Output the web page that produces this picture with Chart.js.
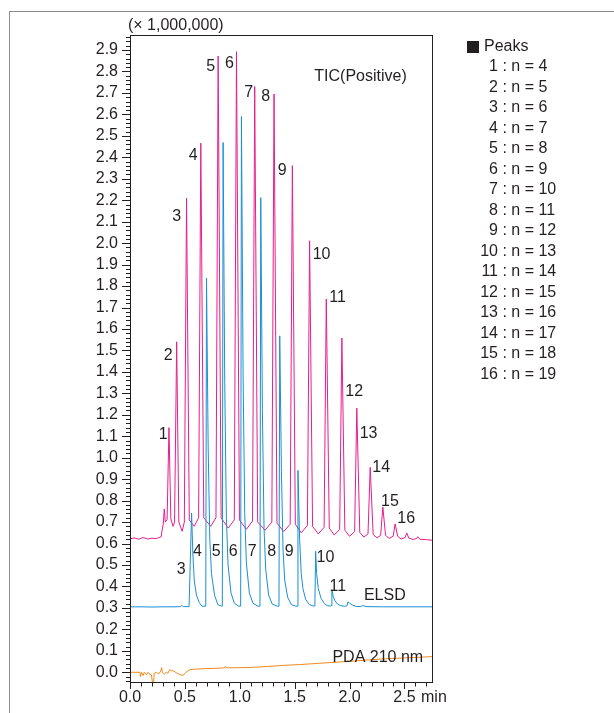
<!DOCTYPE html>
<html>
<head>
<meta charset="utf-8">
<title>Chromatogram</title>
<script src="https://cdn.jsdelivr.net/npm/chart.js@4.4.0/dist/chart.umd.min.js"></script>
<style>
  html, body { margin: 0; padding: 0; background: #fff; }
  #wrap { position: relative; width: 614px; height: 713px; overflow: hidden; }
  #frame { position: absolute; left: 9px; top: 11px; width: 700px; height: 800px;
           border-left: 1px solid #8c8c8c; border-top: 1px solid #8c8c8c; }
  #chart { position: absolute; left: 0; top: 0; }
</style>
</head>
<body>
<div id="wrap"><div id="frame"></div><canvas id="chart" width="614" height="713"></canvas></div>
<script>
var FONT = '"Liberation Sans", Arial, Helvetica, sans-serif';
var INK = '#231f20';

/* [time (min), intensity (x 1,000,000)] */
var ticPoints = [
  [0.00,0.622],[0.04,0.626],[0.08,0.620],[0.12,0.628],[0.16,0.621],[0.20,0.625],[0.24,0.623],
  [0.285,0.632],[0.292,0.662],[0.303,0.69],[0.312,0.761],[0.322,0.70],[0.338,0.712],
  [0.355,1.14],[0.372,0.715],[0.392,0.68],[0.406,0.70],
  [0.425,1.54],[0.445,0.70],[0.475,0.657],[0.495,0.70],
  [0.515,2.21],[0.54,0.71],[0.585,0.68],[0.625,0.72],
  [0.645,2.466],[0.672,0.72],[0.735,0.68],[0.783,0.72],
  [0.803,2.872],[0.83,0.72],[0.895,0.672],[0.95,0.71],
  [0.970,2.892],[0.997,0.71],[1.06,0.666],[1.116,0.705],
  [1.136,2.73],[1.163,0.70],[1.23,0.662],[1.292,0.70],
  [1.312,2.695],[1.339,0.695],[1.40,0.656],[1.459,0.69],
  [1.479,2.361],[1.506,0.69],[1.56,0.65],[1.616,0.685],
  [1.636,2.011],[1.663,0.68],[1.715,0.645],[1.768,0.675],
  [1.788,1.739],[1.815,0.672],[1.86,0.64],[1.91,0.665],
  [1.930,1.558],[1.957,0.662],[2.00,0.634],[2.046,0.655],
  [2.066,1.231],[2.093,0.652],[2.13,0.63],[2.168,0.645],
  [2.188,0.955],[2.215,0.642],[2.25,0.627],[2.283,0.638],
  [2.303,0.77],[2.328,0.638],[2.36,0.624],[2.397,0.634],
  [2.415,0.691],[2.438,0.634],[2.47,0.621],[2.506,0.628],
  [2.521,0.649],[2.54,0.625],[2.58,0.619],[2.61,0.623],
  [2.621,0.632],[2.64,0.62],[2.70,0.618],[2.76,0.615]
];
var elsdPoints = [
  [0.00,0.305],[0.10,0.305],[0.20,0.304],[0.30,0.305],[0.40,0.305],[0.46,0.306],[0.47,0.312],[0.485,0.306],
  [0.538,0.306],[0.561,0.742],[0.572,0.56],[0.585,0.43],[0.605,0.36],[0.63,0.325],[0.655,0.308],
  [0.690,0.308],[0.697,1.837],[0.712,1.05],[0.727,0.62],[0.742,0.46],[0.77,0.36],[0.80,0.315],[0.834,0.308],
  [0.841,0.308],[0.848,2.469],[0.863,1.35],[0.878,0.72],[0.893,0.50],[0.92,0.37],[0.95,0.322],[0.99,0.308],
  [1.008,0.308],[1.015,2.59],[1.030,1.40],[1.045,0.74],[1.06,0.51],[1.087,0.37],[1.12,0.322],[1.165,0.308],
  [1.184,0.308],[1.191,2.212],[1.206,1.22],[1.221,0.67],[1.236,0.48],[1.263,0.36],[1.295,0.318],[1.34,0.308],
  [1.357,0.308],[1.364,1.568],[1.379,0.95],[1.394,0.57],[1.409,0.43],[1.436,0.35],[1.47,0.315],[1.51,0.308],
  [1.523,0.308],[1.530,0.941],[1.545,0.62],[1.56,0.46],[1.575,0.39],[1.60,0.34],[1.635,0.315],[1.675,0.308],
  [1.684,0.309],[1.691,0.564],[1.70,0.46],[1.715,0.39],[1.74,0.345],[1.77,0.32],[1.80,0.31],[1.826,0.309],
  [1.832,0.31],[1.839,0.385],[1.85,0.355],[1.865,0.335],[1.89,0.318],[1.92,0.31],[1.955,0.308],
  [1.975,0.309],[1.985,0.328],[2.00,0.322],[2.03,0.312],[2.06,0.307],
  [2.10,0.306],[2.121,0.311],[2.15,0.306],[2.30,0.305],[2.50,0.305],[2.76,0.305]
];
var pdaPoints = [
  [0.00,0.0],[0.09,0.0],[0.095,-0.02],[0.105,0.0],[0.12,-0.015],[0.13,0.0],[0.15,-0.012],[0.165,0.0],
  [0.18,-0.01],[0.195,-0.012],[0.205,-0.05],[0.215,-0.05],[0.22,-0.005],[0.24,0.0],[0.26,-0.008],
  [0.28,0.005],[0.288,0.022],[0.295,-0.002],[0.31,-0.01],[0.33,0.0],[0.345,-0.005],[0.36,0.012],
  [0.38,0.008],[0.40,0.005],[0.43,-0.005],[0.46,-0.012],[0.485,-0.014],[0.51,0.0],[0.545,0.012],
  [0.60,0.015],[0.70,0.017],[0.82,0.019],[0.86,0.021],[0.868,0.028],[0.876,0.021],[0.95,0.021],
  [1.12,0.023],[1.25,0.027],[1.424,0.033],[1.55,0.036],[1.727,0.042],[1.88,0.047],[2.03,0.052],
  [2.18,0.058],[2.33,0.063],[2.55,0.068],[2.76,0.073]
];

var xLabelTicks = [0, 0.5, 1.0, 1.5, 2.0, 2.5];

var ticPeakNames = ['1','2','3','4','5','6','7','8','9','10','11','12','13','14','15','16'];
var ticPeakLabelAt = [
  [0.303,1.109],[0.348,1.476],[0.425,2.122],[0.575,2.408],[0.736,2.823],[0.906,2.838],
  [1.082,2.70],[1.236,2.681],[1.386,2.338],[1.745,1.945],[1.891,1.744],[2.042,1.309],
  [2.173,1.112],[2.288,0.955],[2.368,0.794],[2.516,0.714]
];
var elsdPeakNames = ['3','4','5','6','7','8','9','10','11'];
var elsdPeakLabelAt = [
  [0.466,0.478],[0.614,0.561],[0.785,0.562],[0.941,0.562],[1.114,0.562],
  [1.291,0.562],[1.45,0.562],[1.78,0.533],[1.894,0.398]
];
var traceNames = ['TIC(Positive)', 'ELSD', 'PDA 210 nm'];
var traceNameAt = [[2.10,2.776],[2.321,0.357],[2.257,0.067]];

var legendPeaks = [1,2,3,4,5,6,7,8,9,10,11,12,13,14,15,16];
var legendCarbons = [4,5,6,7,8,9,10,11,12,13,14,15,16,17,18,19];

function toXY(list) {
  return list.map(function (p) { return { x: p[0], y: p[1] }; });
}

var decorations = {
  id: 'decorations',
  afterDraw: function (chart) {
    var ctx = chart.ctx, a = chart.chartArea, xs = chart.scales.x, ys = chart.scales.y;
    ctx.save();
    ctx.strokeStyle = INK;
    ctx.lineWidth = 1;
    var L = Math.round(a.left), R = Math.round(a.right), T = Math.round(a.top), B = Math.round(a.bottom);
    ctx.strokeRect(L + 0.5, T + 0.5, R - L - 1, B - T - 1);

    // x ticks every 0.1 min, longer at labelled ones
    ctx.beginPath();
    xs.ticks.forEach(function (t) {
      var tenth = t.value * 10;
      if (Math.abs(tenth - Math.round(tenth)) > 1e-6) return;
      var px = Math.round(xs.getPixelForValue(t.value)) + 0.5;
      var major = Math.abs(t.value * 2 - Math.round(t.value * 2)) < 1e-6;
      ctx.moveTo(px, B);
      ctx.lineTo(px, B + (major ? 6 : 3.5));
    });
    // y ticks every 0.02, longer every 0.1
    for (var k = -2; k <= 148; k++) {
      var py = Math.round(ys.getPixelForValue(k / 50)) + 0.5;
      var len = (k % 5 === 0) ? 8 : 4;
      ctx.moveTo(L, py);
      ctx.lineTo(L - len, py);
    }
    ctx.stroke();

    ctx.fillStyle = INK;
    ctx.font = '16px ' + FONT;
    ctx.textBaseline = 'middle';
    ctx.textAlign = 'center';
    function put(txt, at) {
      ctx.fillText(txt, xs.getPixelForValue(at[0]), ys.getPixelForValue(at[1]));
    }
    ticPeakNames.forEach(function (n, i) { put(n, ticPeakLabelAt[i]); });
    elsdPeakNames.forEach(function (n, i) { put(n, elsdPeakLabelAt[i]); });
    traceNames.forEach(function (n, i) { put(n, traceNameAt[i]); });

    ctx.textAlign = 'left';
    ctx.fillText('(\u00d7 1,000,000)', 128, 26);
    ctx.fillText('min', 421, 698);

    // peak legend
    ctx.fillRect(467, 41, 12, 12);
    ctx.fillText('Peaks', 484, 47);
    legendPeaks.forEach(function (p, i) {
      var y = 67 + i * 20.5;
      ctx.textAlign = 'right';
      ctx.fillText(String(p), 498, y);
      ctx.textAlign = 'left';
      ctx.fillText(' : n = ' + legendCarbons[i], 498, y);
    });
    ctx.restore();
  }
};

function lineSet(label, pts, color) {
  return {
    label: label, data: toXY(pts), borderColor: color, borderWidth: 1,
    pointRadius: 0, tension: 0, fill: false, borderJoinStyle: 'round'
  };
}

new Chart(document.getElementById('chart').getContext('2d'), {
  type: 'line',
  data: {
    datasets: [
      lineSet('ELSD', elsdPoints, '#1a8fd4'),
      lineSet('TIC(Positive)', ticPoints, '#e61e8c'),
      lineSet('PDA 210 nm', pdaPoints, '#ef8a1f')
    ]
  },
  options: {
    responsive: false,
    animation: false,
    layout: { padding: { top: 35, right: 181, left: 0, bottom: 0 } },
    plugins: { legend: { display: false }, tooltip: { enabled: false } },
    scales: {
      x: {
        type: 'linear', min: 0, max: 2.76,
        afterFit: function (s) { s.height = 30; },
        grid: { display: false, drawTicks: false },
        border: { display: false },
        ticks: {
          stepSize: 0.1, includeBounds: false, autoSkip: false, maxRotation: 0, padding: 5,
          color: INK, font: { family: FONT, size: 16 },
          callback: function (v) {
            for (var i = 0; i < xLabelTicks.length; i++) {
              if (Math.abs(v - xLabelTicks[i]) < 1e-6) return xLabelTicks[i].toFixed(1);
            }
            return '';
          }
        }
      },
      y: {
        type: 'linear', min: -0.05, max: 2.97,
        afterFit: function (s) { s.width = 130; },
        grid: { display: false, drawTicks: false },
        border: { display: false },
        ticks: {
          stepSize: 0.1, includeBounds: false, autoSkip: false, padding: 12,
          color: INK, font: { family: FONT, size: 16 },
          callback: function (v) { return Number(v).toFixed(1); }
        }
      }
    }
  },
  plugins: [decorations]
});
</script>
</body>
</html>
